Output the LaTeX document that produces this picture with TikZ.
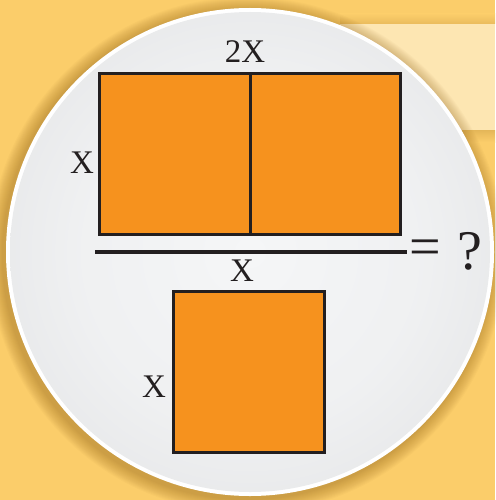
\documentclass[tikz,border=0pt]{standalone}
\usepackage{fontspec}
\setmainfont{Liberation Serif}
\usetikzlibrary{calc}
\definecolor{bgorange}{HTML}{FBCD6A}
\definecolor{bandlight}{HTML}{FDE6B2}
\definecolor{fillorange}{HTML}{F6921E}
\definecolor{inkdark}{HTML}{231F20}
\definecolor{discin}{HTML}{F5F6F7}
\definecolor{discout}{HTML}{D9DADC}
\definecolor{shadowc}{HTML}{8A5A10}
\pgfdeclareradialshading{discshade}{\pgfpoint{0bp}{0bp}}{color(0bp)=(discin); color(18bp)=(discin!80!discout); color(42bp)=(discout!90!discin); color(50bp)=(discout)}
\tikzset{
  tile/.style={draw=inkdark, line width=3pt, fill=fillorange, inner sep=0pt, minimum width=150.5pt, minimum height=161pt},
  lbl/.style={inner sep=0pt, text=inkdark, font=\fontsize{33}{33}\selectfont},
  big/.style={inner sep=0pt, text=inkdark, font=\fontsize{56}{56}\selectfont},
}
\begin{document}
\begin{tikzpicture}[x=1pt,y=-1pt]
\useasboundingbox (0,0) rectangle (495,500);
% background
\fill[bgorange] (0,0) rectangle (495,500);
\shade[top color=bgorange, bottom color=bgorange!85!shadowc] (340,14) rectangle (495,24);
\fill[bandlight] (340,24) rectangle (495,130);
\shade[top color=bgorange!80!shadowc, bottom color=bgorange] (340,130) rectangle (495,142);
% shadow of disc
\foreach \i in {1,...,14}{
  \fill[shadowc, opacity=0.03] (247,255) circle ({244+\i});
}
% disc
\fill[white] (250,252) circle (244);
\shade[shading=discshade] (250,252) circle (240);
% top rectangle (two squares)
\node[tile] (A) at (174.75,154) {};
\node[tile] (B) at (325.25,154) {};
% bottom square
\node[tile] (C) at (249,372) {};
% fraction line
\coordinate (fl) at (95,252);
\coordinate (fr) at (407,252);
\draw[inkdark, line width=3.5pt] (fl) -- (fr);
% labels
\node[lbl] (t2x) at (245,52) {2X};
\node[lbl] (tx1) at (82,163) {X};
\node[lbl] (tx2) at (242,271) {X};
\node[lbl] (tx3) at (154,387) {X};
\node[big, anchor=west] (eq) at (409,253) {=};
\node[big] (q) at (470,251) {?};
\end{tikzpicture}
\end{document}
